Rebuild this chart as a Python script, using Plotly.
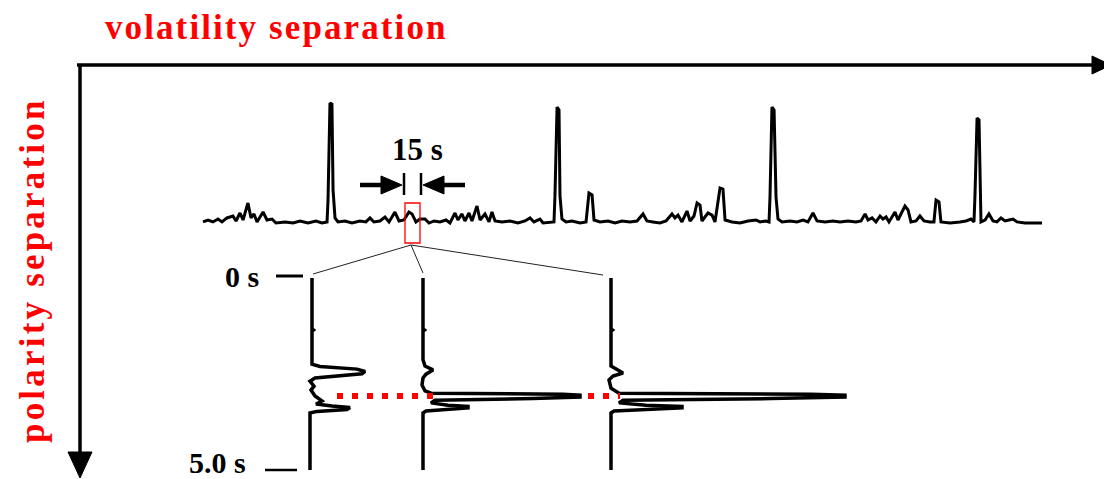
import plotly.graph_objects as go

W, H = 1112, 479

# ---------------- data ----------------
# first-dimension chromatogram: (retention time [min], intensity [a.u.])
chrom_1d = [
    (0.00, 1.7), (0.36, 3.3), (0.71, 1.7), (1.07, 4.1), (1.36, 1.7), (1.71, 5.0), (2.14, 6.6),
    (2.36, 2.5), (2.64, 9.1), (2.86, 3.3), (3.21, 17.4), (3.43, 5.0), (3.64, 8.3), (3.86, 1.7),
    (4.29, 9.9), (4.57, 3.3), (4.93, 4.1), (5.21, 0.8), (5.86, 1.7), (6.43, 0.8), (6.93, 2.5),
    (7.50, 0.8), (8.07, 2.5), (8.50, 0.8), (8.86, 1.7), (8.93, 19.8), (9.07, 100.0), (9.21, 99.0),
    (9.29, 28.0), (9.43, 5.0), (9.64, 1.7), (10.14, 2.5), (10.64, 0.8), (11.21, 2.5), (11.64, 1.7),
    (11.93, 5.0), (12.21, 1.7), (12.64, 2.5), (13.00, 5.8), (13.29, 1.7), (13.71, 9.9), (14.00, 2.5),
    (14.36, 3.3), (14.71, 9.9), (14.93, 8.3), (15.21, 1.7), (15.50, 4.1), (15.86, 4.1), (16.14, 0.8),
    (16.50, 2.5), (16.93, 1.7), (17.36, 3.3), (17.64, 0.8), (18.00, 9.1), (18.21, 3.3), (18.50, 8.3),
    (18.71, 2.5), (19.00, 9.1), (19.21, 2.5), (19.57, 14.9), (19.79, 3.3), (20.14, 8.3), (20.43, 1.7),
    (20.64, 9.9), (20.86, 2.5), (21.36, 1.7), (21.93, 2.5), (22.50, 0.8), (23.00, 2.5), (23.36, 5.0),
    (23.64, 1.7), (24.07, 4.1), (24.29, 0.8), (24.79, 1.7), (25.07, 1.7), (25.14, 23.0), (25.29, 96.7),
    (25.43, 94.2), (25.50, 23.0), (25.64, 4.1), (25.93, 1.7), (26.36, 2.5), (26.93, 0.8), (27.36, 1.7),
    (27.57, 25.6), (27.79, 24.0), (27.93, 3.3), (28.36, 1.7), (28.93, 2.5), (29.43, 0.8), (29.93, 2.5),
    (30.50, 1.7), (31.00, 2.5), (31.43, 8.3), (31.71, 2.5), (32.14, 1.7), (32.64, 0.8), (33.07, 2.5),
    (33.50, 8.3), (33.71, 5.0), (33.93, 7.4), (34.21, 1.7), (34.57, 10.7), (34.79, 2.5), (35.07, 6.6),
    (35.29, 17.4), (35.50, 15.7), (35.64, 2.5), (36.07, 9.1), (36.36, 7.4), (36.57, 1.7), (36.93, 29.8),
    (37.14, 28.9), (37.29, 3.3), (37.79, 1.7), (38.36, 0.8), (38.93, 2.5), (39.50, 3.3), (39.79, 1.7),
    (40.21, 2.5), (40.43, 1.7), (40.50, 22.3), (40.64, 96.7), (40.79, 94.2), (40.86, 58.7), (40.93, 22.3),
    (41.07, 4.1), (41.36, 1.7), (41.93, 2.5), (42.43, 1.7), (42.86, 3.3), (43.21, 1.7), (43.57, 9.1),
    (43.86, 2.5), (44.43, 1.7), (45.00, 2.5), (45.50, 1.7), (46.07, 2.5), (46.64, 1.7), (47.00, 2.5),
    (47.29, 8.3), (47.50, 3.3), (47.79, 5.0), (48.07, 1.7), (48.36, 6.6), (48.57, 4.1), (48.79, 5.8),
    (49.00, 1.7), (49.43, 9.9), (49.64, 3.3), (50.14, 14.9), (50.36, 11.6), (50.57, 1.7), (50.93, 2.5),
    (51.21, 6.6), (51.50, 2.5), (51.93, 1.7), (52.21, 1.7), (52.36, 19.8), (52.57, 18.2), (52.71, 1.7),
    (53.36, 0.8), (54.07, 1.7), (54.50, 2.5), (54.86, 4.1), (55.07, 1.7), (55.14, 23.0), (55.29, 87.6),
    (55.43, 86.0), (55.50, 32.2), (55.57, 1.7), (55.86, 3.3), (56.14, 8.3), (56.43, 2.5), (56.71, 1.7),
    (57.00, 5.0), (57.29, 2.5), (57.57, 3.3), (57.86, 4.1), (58.14, 1.7), (58.71, 0.8), (59.43, 0.8),
    (59.93, 0.8),
]

# second-dimension modulations: (2D retention time [s], intensity [a.u.])
mod_1 = [(0.05, 0), (1.36, 0), (1.39, 1.5), (1.42, 0), (2.27, 0), (2.33, 8), (2.40, 45), (2.46, 53),
         (2.52, 50), (2.58, 20), (2.63, 3), (2.71, -2), (2.84, 2), (2.94, -1), (3.09, 3), (3.22, 10),
         (3.30, 4), (3.35, 20), (3.39, 38), (3.44, 35), (3.49, 5), (3.53, -2), (5.00, -2)]
mod_2 = [(0.05, 0), (1.36, 0), (1.39, 1.5), (1.42, 0), (2.16, 0), (2.32, 2), (2.42, 10), (2.53, 3),
         (2.63, 0), (2.81, -1), (2.96, 2), (3.02, 8), (3.05, 140), (3.07, 157), (3.12, 157),
         (3.16, 110), (3.20, 12), (3.27, 8), (3.33, 25), (3.36, 45), (3.40, 45), (3.44, 20),
         (3.48, 3), (3.53, 0), (5.00, 0)]
mod_3 = [(0.05, 0), (1.36, 0), (1.39, 1.5), (1.42, 0), (2.32, 0), (2.42, 6), (2.50, 12), (2.58, 2),
         (2.68, -2), (2.89, 0), (3.02, 8), (3.05, 200), (3.07, 234), (3.12, 234), (3.16, 160),
         (3.20, 12), (3.27, 8), (3.33, 35), (3.36, 71), (3.40, 71), (3.44, 30), (3.48, 3),
         (3.53, 0), (5.00, 0)]
modulations = [mod_1, mod_2, mod_3]

aligned_t2_s = 3.09
t2_tick_values = [0.0, 5.0]
t2_tick_labels = ["0 s", "5.0 s"]
period_text = "15 s"
x_title = "volatility separation"
y_title = "polarity separation"

# ---------------- layout geometry (pixels of the 1112x479 page) ----------------
PAGE_MARGIN = 8                       # default <body> margin of the written html page
FIG_W, FIG_H = W - PAGE_MARGIN, H - PAGE_MARGIN
X_LO, Y_LO = PAGE_MARGIN, PAGE_MARGIN # page pixel at the figure's top-left corner
CH_X0, CH_PX_PER_MIN = 203, 14.0      # chromatogram time origin / scale
CH_Y0, CH_PX_PER_UNIT = 224, 1.21     # chromatogram baseline / scale
T2_Y0, T2_PX_PER_S = 276, 38.8        # 2nd-dimension time origin / scale
MOD_BASE_X = [312, 423, 611]          # where each modulation trace is drawn
ALIGN_SEGMENTS = [(337, 433), (588, 620)]
SERIF = "Liberation Serif, Times New Roman, serif"

fig = go.Figure()

fig.add_trace(go.Scatter(
    x=[p[0] for p in chrom_1d], y=[p[1] for p in chrom_1d],
    xaxis="x2", yaxis="y2", mode="lines",
    line=dict(color="black", width=3), hoverinfo="skip", showlegend=False))

for base, mod in zip(MOD_BASE_X, modulations):
    fig.add_trace(go.Scatter(
        x=[base + p[1] for p in mod], y=[p[0] for p in mod],
        xaxis="x", yaxis="y3", mode="lines",
        line=dict(color="black", width=3.5), hoverinfo="skip", showlegend=False))

for a, b in ALIGN_SEGMENTS:
    fig.add_trace(go.Scatter(
        x=[a, b], y=[aligned_t2_s, aligned_t2_s], xaxis="x", yaxis="y3", mode="lines",
        line=dict(color="#ff0000", width=6, dash="6px,9px"), hoverinfo="skip", showlegend=False))

shapes = []
def line(x0, y0, x1, y1, w, c="black", yref="y"):
    shapes.append(dict(type="line", xref="x", yref=yref, x0=x0, y0=y0, x1=x1, y1=y1,
                       line=dict(color=c, width=w)))
def tri(path):
    shapes.append(dict(type="path", xref="x", yref="y", path=path,
                       fillcolor="black", line=dict(color="black", width=1)))

# main axes arrows
line(77, 65, 1094, 65, 3.5)
tri("M 1092,56 L 1111,65 L 1092,74 Z")
line(80, 64, 80, 455, 3.5)
tri("M 68,452 L 92,452 L 80,478 Z")

# 15 s modulation period marker
line(360, 185, 384, 185, 4.5)
tri("M 381,176 L 402,185 L 381,194 Z")
line(404, 173, 404, 195, 2.5)
line(421, 173, 421, 195, 2.5)
tri("M 423,185 L 444,176 L 444,194 Z")
line(441, 185, 465, 185, 4.5)

# red selection box and zoom lines
shapes.append(dict(type="rect", xref="x", yref="y", x0=405, x1=420, y0=203, y1=243,
                   line=dict(color="#ff0000", width=1.3)))
for (xe, ye) in [(313, 274), (423, 273), (603, 275)]:
    line(411, 245, xe, ye, 1, "#222222")

# 2nd-dimension time ticks
line(276, t2_tick_values[0], 303, t2_tick_values[0], 3, yref="y3")
line(265, t2_tick_values[1], 297, t2_tick_values[1], 2.5, yref="y3")

annotations = [
    dict(text=f'<span style="letter-spacing:2.1px">{x_title}</span>', x=276, y=27, xref="x", yref="y",
         showarrow=False, xanchor="center", yanchor="middle",
         font=dict(family=SERIF, size=35, color="#ff0000", weight="bold")),
    dict(text=f'<span style="letter-spacing:3.2px">{y_title}</span>', x=32, y=270, xref="x", yref="y",
         showarrow=False, xanchor="center", yanchor="middle", textangle=-90,
         font=dict(family=SERIF, size=35, color="#ff0000", weight="bold")),
    dict(text=period_text, x=417, y=149, xref="x", yref="y", showarrow=False,
         xanchor="center", yanchor="middle",
         font=dict(family=SERIF, size=31, color="black", weight="bold")),
    dict(text=t2_tick_labels[0], x=261, y=t2_tick_values[0], xref="x", yref="y3", showarrow=False,
         xanchor="right", yanchor="middle",
         font=dict(family=SERIF, size=30, color="black", weight="bold")),
    dict(text=t2_tick_labels[1], x=248, y=t2_tick_values[1], yshift=8, xref="x", yref="y3",
         showarrow=False, xanchor="right", yanchor="middle",
         font=dict(family=SERIF, size=30, color="black", weight="bold")),
]

hidden = dict(visible=False, fixedrange=True, showgrid=False, zeroline=False)
fig.update_layout(
    width=FIG_W, height=FIG_H, margin=dict(l=0, r=0, t=0, b=0),
    paper_bgcolor="white", plot_bgcolor="white", showlegend=False,
    xaxis=dict(range=[X_LO, W], domain=[0, 1], **hidden),
    yaxis=dict(range=[H, Y_LO], domain=[0, 1], **hidden),
    xaxis2=dict(overlaying="x", range=[(X_LO - CH_X0) / CH_PX_PER_MIN, (W - CH_X0) / CH_PX_PER_MIN], **hidden),
    yaxis2=dict(overlaying="y", range=[(CH_Y0 - H) / CH_PX_PER_UNIT, (CH_Y0 - Y_LO) / CH_PX_PER_UNIT], **hidden),
    yaxis3=dict(overlaying="y", range=[(H - T2_Y0) / T2_PX_PER_S, (Y_LO - T2_Y0) / T2_PX_PER_S], **hidden),
    shapes=shapes, annotations=annotations,
)

fig.write_html("out.html")
